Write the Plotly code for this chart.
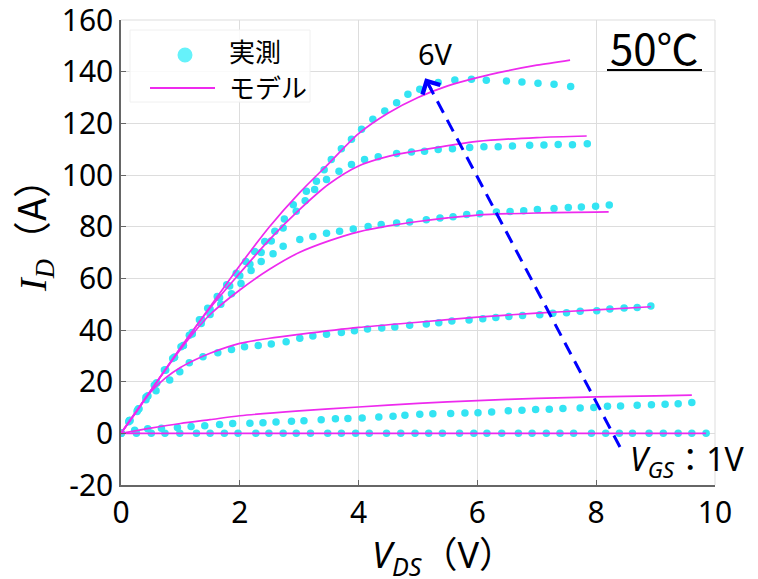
import plotly.graph_objects as go

# ---------------- measured data (実測) ----------------
meas_x_1v = [0, 0.26, 0.51, 0.74, 0.99, 1.27, 1.5, 1.74, 1.97, 2.27, 2.49, 2.73, 2.95, 3.19, 3.48, 3.71,
             3.95, 4.18, 4.47, 4.71, 4.95, 5.18, 5.41, 5.7, 5.94, 6.16, 6.41, 6.69, 6.92, 7.16, 7.39, 7.62,
             7.92, 8.16, 8.39, 8.61, 8.89, 9.13, 9.38, 9.61, 9.85]
meas_y_1v = [0.0, 0.0, 0.0, 0.0, 0.0, 0.0, 0.0, 0.0, 0.0, 0.0, 0.0, 0.0, 0.0, 0.0, 0.0, 0.0,
             0.0, 0.0, 0.0, 0.0, 0.0, 0.0, 0.0, 0.0, 0.0, 0.0, 0.0, 0.0, 0.0, 0.0, 0.0, 0.0,
             0.0, 0.0, 0.0, 0.0, 0.0, 0.0, 0.0, 0.0, 0.0]

meas_x_2v = [0, 0.23, 0.45, 0.68, 0.95, 1.18, 1.41, 1.66, 1.88, 2.17, 2.39, 2.61, 2.87, 3.08, 3.37, 3.61,
             3.82, 4.06, 4.34, 4.58, 4.78, 5.03, 5.25, 5.55, 5.79, 6.01, 6.24, 6.52, 6.75, 6.98, 7.21,
             7.44, 7.73, 7.96, 8.19, 8.41, 8.69, 8.93, 9.16, 9.38, 9.61]
meas_y_2v = [0, 1.2, 1.8, 2.0, 2.3, 2.6, 2.9, 3.4, 3.8, 3.9, 4.1, 4.4, 4.7, 4.9, 5.3, 5.6,
             5.7, 5.95, 6.3, 6.6, 7.0, 7.4, 7.6, 7.7, 7.9, 8.0, 8.3, 8.7, 8.9, 9.2, 9.3,
             9.6, 9.8, 10.0, 10.5, 10.6, 10.9, 11.1, 11.3, 11.5, 11.9]

meas_x_3v = [0, 0.13, 0.27, 0.42, 0.59, 0.82, 0.99, 1.15, 1.38, 1.63, 1.86, 2.08, 2.31, 2.53, 2.78, 3.01,
             3.23, 3.46, 3.71, 3.93, 4.15, 4.39, 4.61, 4.86, 5.14, 5.35, 5.57, 5.86, 6.09, 6.31, 6.53,
             6.76, 7.05, 7.27, 7.5, 7.73, 8.01, 8.23, 8.47, 8.69, 8.92]
meas_y_3v = [0, 4.5, 8.5, 13, 16.5, 20.6, 23.8, 27.3, 29.6, 31.2, 32.5, 33.5, 34, 34.6, 35.5, 36.8,
             37.7, 38.4, 39, 39.7, 40.4, 40.8, 41.2, 41.8, 42.3, 42.8, 43.5, 43.9, 44.4, 44.8, 45.2,
             45.6, 45.9, 46.5, 46.7, 47.3, 47.5, 48.1, 48.5, 48.7, 49.3]

meas_x_4v = [0, 0.15, 0.3, 0.45, 0.6, 0.75, 0.9, 1.05, 1.2, 1.35, 1.5, 1.68, 1.86, 2.02, 2.19, 2.36,
             2.56, 2.73, 3.01, 3.23, 3.46, 3.68, 3.91, 4.16, 4.38, 4.64, 4.86, 5.14, 5.37, 5.59, 5.82,
             6.04, 6.32, 6.55, 6.78, 7.01, 7.29, 7.53, 7.75, 7.99, 8.22]
meas_y_4v = [0, 5, 9.5, 14.5, 19.5, 24.5, 29.5, 34, 38.5, 42.5, 46, 50, 54, 58, 63, 66.5,
             69.5, 72.4, 75, 76.2, 77.5, 78.2, 79.1, 80.1, 80.8, 81.4, 81.8, 82.7, 83.4, 83.8, 84.7,
             85.0, 85.7, 85.9, 86.2, 86.6, 87.0, 87.4, 87.6, 87.9, 88.4]

meas_x_5v = [0, 0.15, 0.3, 0.45, 0.6, 0.75, 0.9, 1.05, 1.2, 1.36, 1.5, 1.66, 1.83, 2.0, 2.17, 2.36,
             2.53, 2.73, 2.95, 3.1, 3.26, 3.46, 3.67, 3.88, 4.1, 4.33, 4.64, 4.89, 5.11, 5.34, 5.58,
             5.87, 6.11, 6.35, 6.59, 6.88, 7.12, 7.36, 7.6, 7.85]
meas_y_5v = [0, 5, 9.5, 14.5, 19.5, 24.5, 29.5, 34, 39, 44, 48, 52.5, 57, 61, 65.5, 70,
             74.5, 79.5, 86, 90, 94.4, 98.3, 101.5, 104.1, 106, 107.1, 108.3, 108.9, 109.2, 109.9, 110.2,
             110.6, 110.9, 110.9, 111.2, 111.5, 111.6, 111.8, 111.7, 112.1]

meas_x_6v = [0, 0.14, 0.28, 0.42, 0.56, 0.73, 0.87, 1.01, 1.15, 1.32, 1.46, 1.62, 1.78, 1.94, 2.1, 2.25,
             2.42, 2.59, 2.75, 2.9, 3.12, 3.29, 3.42, 3.54, 3.71, 3.88, 4.05, 4.24, 4.44, 4.64, 4.83,
             5.03, 5.34, 5.62, 5.9, 6.15, 6.49, 6.75, 7.02, 7.29, 7.57]
meas_y_6v = [0, 5, 9, 14, 18.6, 24.5, 29, 33.5, 38, 44, 48.4, 53, 57.5, 62, 66.5, 70.4,
             74.3, 78.2, 83, 88.5, 93.7, 97.6, 102, 106, 110.2, 113.8, 117.7, 121.6, 124.8, 128, 131.3,
             133.2, 135.8, 136.8, 137.1, 136.7, 136.4, 136, 135.5, 135.1, 134.3]

# ---------------- model curves (モデル) ----------------
model_x_1v = [0, 9.85]
model_y_1v = [0, 0]
model_x_2v = [0, 0.5, 1, 1.5, 2, 3, 4, 5, 6, 7, 8, 9, 9.61]
model_y_2v = [0, 2, 3.8, 5.3, 6.8, 8.7, 10.2, 11.6, 12.7, 13.5, 14.1, 14.5, 14.8]
model_x_3v = [0, 0.25, 0.5, 0.75, 1, 1.25, 1.5, 2, 2.5, 3, 4, 5, 6, 7, 8, 8.92]
model_y_3v = [0, 8, 16, 21.5, 25.5, 28.5, 31, 34.8, 36.8, 38.3, 41, 43, 45, 46.5, 47.8, 49]
model_x_4v = [0, 0.5, 1, 1.5, 2, 2.5, 3, 3.5, 4, 4.5, 5, 5.5, 6, 7, 8.21]
model_y_4v = [0, 16.5, 32.5, 46, 55.5, 63.5, 70, 74.5, 78, 80.3, 82, 83.4, 84.5, 85.3, 85.7]
model_x_5v = [0, 0.5, 1, 1.5, 2, 2.5, 3, 3.5, 4, 4.5, 5, 6, 7, 7.84]
model_y_5v = [0, 16.5, 33, 48.5, 62, 75, 86.5, 96.5, 103.5, 107.2, 109.4, 113, 114.5, 115.1]
model_x_6v = [0, 0.5, 1, 1.5, 2, 2.5, 3, 3.5, 4, 4.5, 5, 5.5, 6, 6.5, 7, 7.56]
model_y_6v = [0, 16.5, 33, 49, 65, 80, 93, 104.5, 116, 124, 130, 134.5, 137.7, 140.3, 142.5, 144.5]

x_ticks = [0, 2, 4, 6, 8, 10]
y_ticks = [-20, 0, 20, 40, 60, 80, 100, 120, 140, 160]

# arrow (V_GS increasing direction)
arrow_tail = (8.40, -5.3)
arrow_tip = (5.12, 137.5)

DOT = "#33E4F3"
LINE = "#EE2AEE"
GRID = "#DDDDDD"
AXIS = "#666666"
NUM_FONT = "Noto Sans, Noto Sans CJK JP, sans-serif"
CJK_FONT = "Noto Sans CJK JP, Noto Sans, sans-serif"

meas = [(meas_x_1v, meas_y_1v), (meas_x_2v, meas_y_2v), (meas_x_3v, meas_y_3v),
        (meas_x_4v, meas_y_4v), (meas_x_5v, meas_y_5v), (meas_x_6v, meas_y_6v)]
model = [(model_x_1v, model_y_1v), (model_x_2v, model_y_2v), (model_x_3v, model_y_3v),
         (model_x_4v, model_y_4v), (model_x_5v, model_y_5v), (model_x_6v, model_y_6v)]

fig = go.Figure()
for mx, my in meas:
    fig.add_trace(go.Scatter(x=mx, y=my, mode="markers", showlegend=False,
                             marker=dict(color=DOT, size=7.5, line=dict(width=0))))
for lx, ly in model:
    fig.add_trace(go.Scatter(x=lx, y=ly, mode="lines", showlegend=False,
                             line=dict(color=LINE, width=1.7, shape="spline", smoothing=0.8)))

# plot area geometry (pixels) for paper-coordinate helpers
L, R, T, B = 121, 43, 20, 94
W, H = 758, 579
PW, PH = W - L - R, H - T - B


def px(xp):
    return (xp - L) / PW


def py(yp):
    return (H - B - yp) / PH


shapes = []
# light top/right frame
shapes.append(dict(type="line", xref="paper", yref="paper", x0=0, x1=1, y0=1, y1=1,
                   line=dict(color=GRID, width=1)))
shapes.append(dict(type="line", xref="paper", yref="paper", x0=1, x1=1, y0=0, y1=1,
                   line=dict(color=GRID, width=1)))
# dashed arrow shaft
shapes.append(dict(type="line", xref="x", yref="y", x0=arrow_tail[0], y0=arrow_tail[1],
                   x1=arrow_tip[0], y1=arrow_tip[1],
                   line=dict(color="#0000FF", width=3, dash="13px,8px")))
# legend box
shapes.append(dict(type="rect", xref="paper", yref="paper", x0=px(130), x1=px(310),
                   y0=py(102), y1=py(30), fillcolor="rgba(255,255,255,0.85)",
                   line=dict(color="#F0F0F0", width=1)))
# legend line sample
shapes.append(dict(type="line", xref="paper", yref="paper", x0=px(150), x1=px(215),
                   y0=py(88), y1=py(88), line=dict(color=LINE, width=2)))
# legend marker sample
shapes.append(dict(type="circle", xref="paper", yref="paper", xsizemode="pixel", ysizemode="pixel",
                   xanchor=px(185), yanchor=py(55), x0=-7.5, x1=7.5, y0=-7.5, y1=7.5,
                   fillcolor="#66F2FA", line=dict(width=0)))
# underline for 50℃
shapes.append(dict(type="line", xref="paper", yref="paper", x0=px(607), x1=px(702),
                   y0=py(70), y1=py(70), line=dict(color="black", width=2)))

annotations = [
    dict(x=arrow_tip[0], y=arrow_tip[1], xref="x", yref="y", ax=7, ay=13, text="",
         showarrow=True, arrowhead=4, arrowsize=1.3, arrowwidth=3, arrowcolor="#0000FF"),
    dict(x=5.3, y=147, xref="x", yref="y", xanchor="center", yanchor="middle", text="6V",
         showarrow=False, font=dict(family=NUM_FONT, size=29, color="black")),
    dict(x=px(628), y=py(461), xref="paper", yref="paper", xanchor="left", yanchor="middle",
         text="<i>V</i><sub><i>GS</i></sub>：1V", showarrow=False,
         font=dict(family=NUM_FONT, size=32, color="black")),
    dict(x=px(654), y=py(46), xref="paper", yref="paper", xanchor="center", yanchor="middle",
         text="50℃", showarrow=False,
         font=dict(family=CJK_FONT, size=42, color="black")),
    dict(x=px(227), y=py(50), xref="paper", yref="paper", xanchor="left", yanchor="middle",
         text="実測", showarrow=False, font=dict(family=CJK_FONT, size=26, color="black")),
    dict(x=px(227), y=py(86), xref="paper", yref="paper", xanchor="left", yanchor="middle",
         text="モデル", showarrow=False, font=dict(family=CJK_FONT, size=26, color="black")),
    dict(x=px(31), y=py(226), xref="paper", yref="paper", xanchor="center", yanchor="middle",
         textangle=-90,
         text="<span style=\"font-family:'Liberation Serif'\"><i>I</i><sub><i>D</i></sub></span>（A）",
         showarrow=False, font=dict(family=CJK_FONT, size=38, color="black")),
    dict(x=px(370), y=py(556), xref="paper", yref="paper", xanchor="left", yanchor="middle",
         text="<i>V</i><sub><i>DS</i></sub>（V）", showarrow=False,
         font=dict(family=NUM_FONT, size=36, color="black")),
]

fig.update_layout(
    width=W, height=H,
    margin=dict(l=L, r=R, t=T, b=B, autoexpand=False),
    paper_bgcolor="white", plot_bgcolor="white",
    showlegend=False,
    shapes=shapes,
    annotations=annotations,
    font=dict(family=NUM_FONT, color="black"),
)
fig.update_xaxes(range=[0, 10], tickvals=x_ticks, ticktext=[str(v) for v in x_ticks],
                 automargin=False, ticklabeloverflow="allow",
                 showgrid=True, gridcolor=GRID, gridwidth=1, zeroline=False,
                 showline=True, linecolor=AXIS, linewidth=1.5,
                 ticks="inside", ticklen=5, tickcolor=AXIS,
                 tickfont=dict(family=NUM_FONT, size=30, color="black"))
fig.update_yaxes(range=[-20, 160], tickvals=y_ticks, ticktext=[str(v) for v in y_ticks],
                 automargin=False, ticklabeloverflow="allow",
                 showgrid=True, gridcolor=GRID, gridwidth=1, zeroline=False,
                 showline=True, linecolor=AXIS, linewidth=1.5,
                 ticks="inside", ticklen=5, tickcolor=AXIS,
                 tickfont=dict(family=NUM_FONT, size=30, color="black"))

fig.write_html("out.html", config={"displayModeBar": False},
               post_script="document.body.style.margin='0px';")
